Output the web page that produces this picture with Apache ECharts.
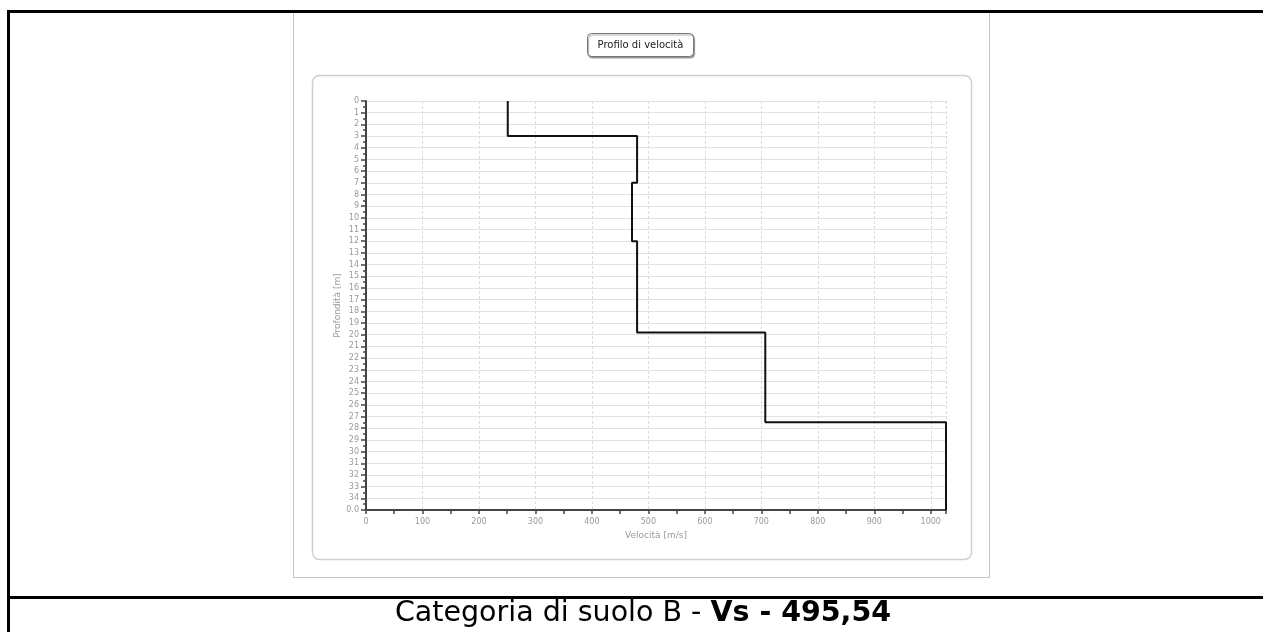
<!DOCTYPE html>
<html>
<head>
<meta charset="utf-8">
<script src="https://cdn.jsdelivr.net/npm/echarts@6/dist/echarts.min.js"></script>
<style>
  html, body { margin: 0; padding: 0; background: #fff; }
  #main { width: 1263px; height: 632px; }
</style>
</head>
<body>
<div id="main"></div>
<script>
// layer profile: top / bottom depth [m] and shear wave velocity [m/s]
const layerTop = [0, 3, 7, 12, 19.8, 27.5];
const layerBottom = [3, 7, 12, 19.8, 27.5, 35];
const velocity = [251, 480, 471, 480, 707, 1027];

const yTickLabels = ['0', '1', '2', '3', '4', '5', '6', '7', '8', '9', '10', '11', '12', '13', '14', '15', '16', '17',
  '18', '19', '20', '21', '22', '23', '24', '25', '26', '27', '28', '29', '30', '31', '32', '33', '34', '0.0'];

const chartTitle = 'Profilo di velocità';
const captionText = 'Categoria di suolo B - ';
const captionBold = 'Vs - 495,54';

// step line points (velocity, depth)
const profile = [];
for (let i = 0; i < velocity.length; i++) {
  profile.push([velocity[i], layerTop[i]]);
  profile.push([velocity[i], layerBottom[i]]);
}

const labelFont = 'DejaVu Sans';
const labelColor = '#9a9a9a';

const chart = echarts.init(document.getElementById('main'));
chart.setOption({
  animation: false,
  backgroundColor: '#fff',
  grid: { left: 366, top: 101, width: 580, height: 409, containLabel: false },
  xAxis: {
    type: 'value',
    position: 'bottom',
    min: 0,
    max: 1027,
    interval: 100,
    name: 'Velocità [m/s]',
    nameLocation: 'middle',
    nameGap: 20,
    nameTextStyle: { color: labelColor, fontFamily: labelFont, fontSize: 9 },
    axisLine: { show: true, onZero: false, lineStyle: { color: '#444', width: 2 } },
    axisTick: { show: true, length: 4, lineStyle: { color: '#444', width: 1.5 } },
    minorTick: { show: true, splitNumber: 2, length: 4, lineStyle: { color: '#444', width: 1.5 } },
    axisLabel: {
      showMaxLabel: false, color: labelColor, fontFamily: labelFont, fontSize: 8, margin: 8,
      formatter: (v) => String(v)
    },
    splitLine: { show: true, lineStyle: { color: '#dcdcdc', type: [3, 2], width: 1 } }
  },
  yAxis: {
    type: 'value',
    inverse: true,
    min: 0,
    max: 35,
    interval: 1,
    name: 'Profondità [m]',
    nameLocation: 'middle',
    nameGap: 19,
    nameRotate: 90,
    nameTextStyle: { color: labelColor, fontFamily: labelFont, fontSize: 9 },
    axisLine: { show: true, onZero: false, lineStyle: { color: '#444', width: 2 } },
    axisTick: { show: true, length: 5, lineStyle: { color: '#444', width: 1.5 } },
    minorTick: { show: true, splitNumber: 2, length: 3, lineStyle: { color: '#444', width: 1.5 } },
    axisLabel: {
      color: labelColor, fontFamily: labelFont, fontSize: 8, margin: 7,
      formatter: (v) => yTickLabels[Math.round(v)]
    },
    splitLine: { show: true, lineStyle: { color: '#e2e2e2', width: 1 } }
  },
  series: [{
    type: 'line',
    data: profile,
    showSymbol: false,
    symbol: 'none',
    lineStyle: { color: '#111', width: 2 },
    z: 5
  }],
  graphic: [
    // report table borders
    { type: 'rect', shape: { x: 7, y: 10, width: 1300, height: 3 }, style: { fill: '#000' }, silent: true },
    { type: 'rect', shape: { x: 7, y: 10, width: 3, height: 640 }, style: { fill: '#000' }, silent: true },
    { type: 'rect', shape: { x: 7, y: 596, width: 1300, height: 3 }, style: { fill: '#000' }, silent: true },
    // picture frame
    { type: 'rect', z: -10, shape: { x: 293.5, y: 12.5, width: 696, height: 565 },
      style: { fill: '#fff', stroke: '#c4c4c4', lineWidth: 1 }, silent: true },
    // inner rounded panel
    { type: 'rect', z: -9, shape: { x: 312.5, y: 75.5, width: 659, height: 484, r: 7 },
      style: { fill: '#fff', stroke: '#cfcfcf', lineWidth: 1.5 }, silent: true },
    // title box
    { type: 'rect', z: 10, shape: { x: 587.5, y: 33.5, width: 106, height: 23, r: 4 },
      style: { fill: '#fff', stroke: '#777', lineWidth: 1, shadowColor: 'rgba(0,0,0,0.35)', shadowOffsetX: 1, shadowOffsetY: 1.5, shadowBlur: 1 },
      silent: true },
    { type: 'text', z: 11, x: 640.5, y: 45,
      style: { text: chartTitle, fill: '#222', font: '10px "DejaVu Sans"', align: 'center', verticalAlign: 'middle' },
      silent: true },
    // caption
    { type: 'text', z: 11, x: 643, y: 614,
      style: {
        text: '{n|' + captionText + '}{b|' + captionBold + '}',
        align: 'center',
        verticalAlign: 'middle',
        rich: {
          n: { fontFamily: 'DejaVu Sans', fontSize: 28.5, fill: '#000', fontWeight: 'normal' },
          b: { fontFamily: 'DejaVu Sans', fontSize: 28.5, fill: '#000', fontWeight: 'bold' }
        }
      }, silent: true }
  ]
});
</script>
</body>
</html>
